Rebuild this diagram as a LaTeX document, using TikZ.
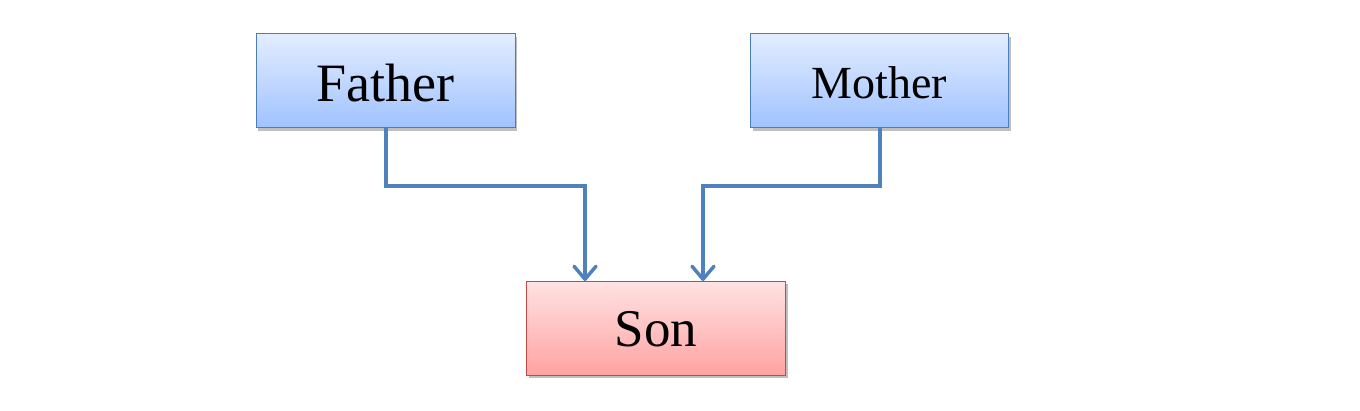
\documentclass[tikz,border=0pt]{standalone}
\usepackage{fontspec}
\setmainfont{Liberation Serif}
\usetikzlibrary{arrows.meta,shadows}
\definecolor{bluetop}{HTML}{E2EDFF}
\definecolor{bluebot}{HTML}{A0C2FF}
\definecolor{blueedge}{HTML}{4A7EBB}
\definecolor{redtop}{HTML}{FFE2E2}
\definecolor{redbot}{HTML}{FFA2A2}
\definecolor{rededge}{HTML}{BE4B48}
\definecolor{conncol}{HTML}{4F81BD}
\tikzset{
  box/.style={rectangle, draw, line width=1pt, inner sep=0pt, text depth=0pt,
    minimum height=94pt, minimum width=259pt,
    drop shadow={shadow xshift=2pt, shadow yshift=-3pt, opacity=0.25, fill=black}},
  parent/.style={box, draw=blueedge, top color=bluetop, bottom color=bluebot},
  child/.style={box, draw=rededge, top color=redtop, bottom color=redbot},
  conn/.style={draw=conncol, line width=4pt,
    -{Straight Barb[length=13pt,width=22pt,line width=3.5pt,round]}}
}
\begin{document}
\begin{tikzpicture}[x=1pt,y=-1pt]
\useasboundingbox (0,0) rectangle (1360,411);
\node[parent, text height=41.4pt, font=\fontsize{54}{60}\selectfont] (father) at (385.5,81) {Father};
\node[parent, minimum width=258pt, text height=34.6pt, font=\fontsize{46}{52}\selectfont] (mother) at (879.5,81) {Mother};
\node[child, text height=36.4pt, font=\fontsize{53}{58}\selectfont] (son) at (656,328.5) {Son};
\coordinate (fa) at (585,186);
\coordinate (ma) at (703,186);
\draw[conn] (father.south) |- (fa) -- (fa |- son.north);
\draw[conn] (mother.south) |- (ma) -- (ma |- son.north);
\end{tikzpicture}
\end{document}
